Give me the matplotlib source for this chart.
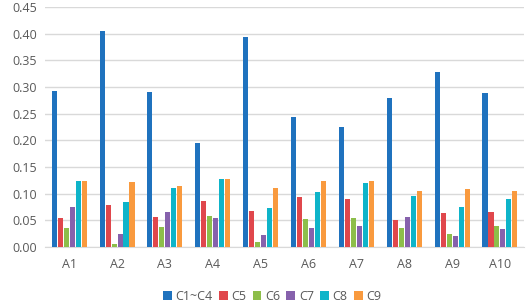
import numpy as np
import matplotlib.pyplot as plt

groups = ['A1', 'A2', 'A3', 'A4', 'A5', 'A6', 'A7', 'A8', 'A9', 'A10']
series_names = ['C1~C4', 'C5', 'C6', 'C7', 'C8', 'C9']
c1_c4 = [0.292, 0.405, 0.290, 0.195, 0.394, 0.244, 0.225, 0.279, 0.328, 0.289]
c5 = [0.055, 0.078, 0.057, 0.087, 0.068, 0.094, 0.090, 0.050, 0.063, 0.066]
c6 = [0.035, 0.005, 0.037, 0.058, 0.010, 0.053, 0.054, 0.036, 0.025, 0.040]
c7 = [0.076, 0.024, 0.065, 0.054, 0.022, 0.035, 0.040, 0.057, 0.020, 0.033]
c8 = [0.124, 0.084, 0.110, 0.128, 0.074, 0.104, 0.120, 0.096, 0.076, 0.090]
c9 = [0.124, 0.122, 0.114, 0.127, 0.110, 0.123, 0.124, 0.106, 0.109, 0.106]

colors = ['#1F72BE', '#E0474C', '#8DBE4A', '#8661AC', '#0EB4C9', '#F99A3E']
values = [c1_c4, c5, c6, c7, c8, c9]

plt.rcParams['font.family'] = ['Open Sans', 'DejaVu Sans']
fig = plt.figure(figsize=(5.26, 3.05), dpi=100)
ax = fig.add_axes([0.086, 0.19, 0.910, 0.787])

x = np.arange(len(groups))
step = 0.125
width = 0.105
for i, (name, vals) in enumerate(zip(series_names, values)):
    ax.bar(x + (i - 2.5) * step, vals, width, color=colors[i], label=name, zorder=3)

ax.set_xlim(-0.5, len(groups) - 0.5)
ax.set_ylim(0, 0.45)
ax.set_yticks(np.arange(0, 0.451, 0.05))
ax.set_yticklabels([f'{v:.2f}' for v in np.arange(0, 0.451, 0.05)])
ax.set_xticks(x)
ax.set_xticklabels(groups)
ax.yaxis.grid(True, color='#D9D9D9', linewidth=1, zorder=0)
for s in ['top', 'right', 'left']:
    ax.spines[s].set_visible(False)
ax.spines['bottom'].set_color('#D9D9D9')
ax.tick_params(axis='both', length=0, labelsize=9, colors='#595959', pad=6)
ax.tick_params(axis='x', pad=8)

ax.legend(loc='upper center', bbox_to_anchor=(0.474, -0.13), ncol=6, frameon=False,
          fontsize=9, handlelength=0.7, handleheight=0.7, handletextpad=0.3,
          columnspacing=0.5, labelcolor='#595959')

fig.savefig('out.png', dpi=100)
